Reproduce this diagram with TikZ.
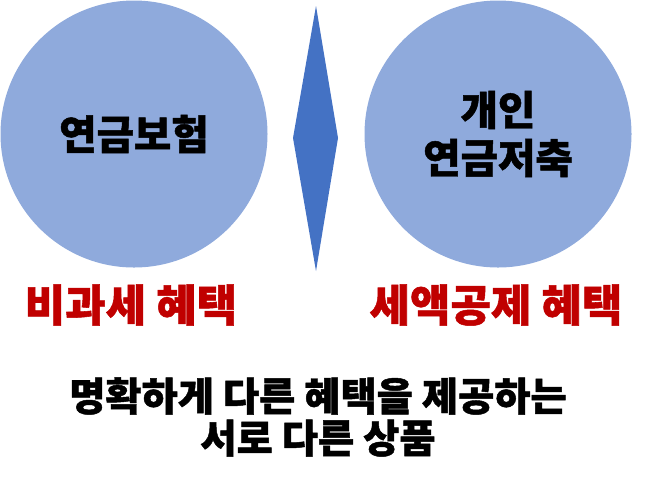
\documentclass[tikz,border=0pt]{standalone}
\usepackage{fontspec}
\newfontfamily\kr{Noto Sans CJK KR}[BoldFeatures={FakeBold=1.2}]
\definecolor{circlefill}{HTML}{8FAADC}
\definecolor{diamondfill}{HTML}{4472C4}
\definecolor{benefitred}{HTML}{C00000}
\tikzset{
  product/.style={circle, fill=circlefill, minimum size=267*0.75pt, inner sep=0pt,
    align=center, font=\kr\bfseries\fontsize{30.5}{36}\selectfont},
  benefit/.style={text=benefitred, font=\kr\bfseries\fontsize{33}{40}\selectfont},
  summary/.style={align=center, font=\kr\bfseries\fontsize{29.5}{31.5}\selectfont}
}
\begin{document}
\begin{tikzpicture}[x=0.75pt, y=-0.75pt]
% cadre : 649 x 487 px
\useasboundingbox (0,0) rectangle (649,487);

% les deux produits
\node[product] (pension) at (134,134) {연금보험};
\node[product] (savings) at (498,134) {개인\\연금저축};

% losange au milieu
\fill[diamondfill] (316,6) -- (338,138) -- (316,271) -- (293,138) -- cycle;

% avantages
\node[benefit] (taxfree) at (131,305) {비과세 혜택};
\node[benefit] (deduction) at (496,305) {세액공제 혜택};

% conclusion
\node[summary] (note) at (318,417) {명확하게 다른 혜택을 제공하는\\서로 다른 상품};
\end{tikzpicture}
\end{document}
